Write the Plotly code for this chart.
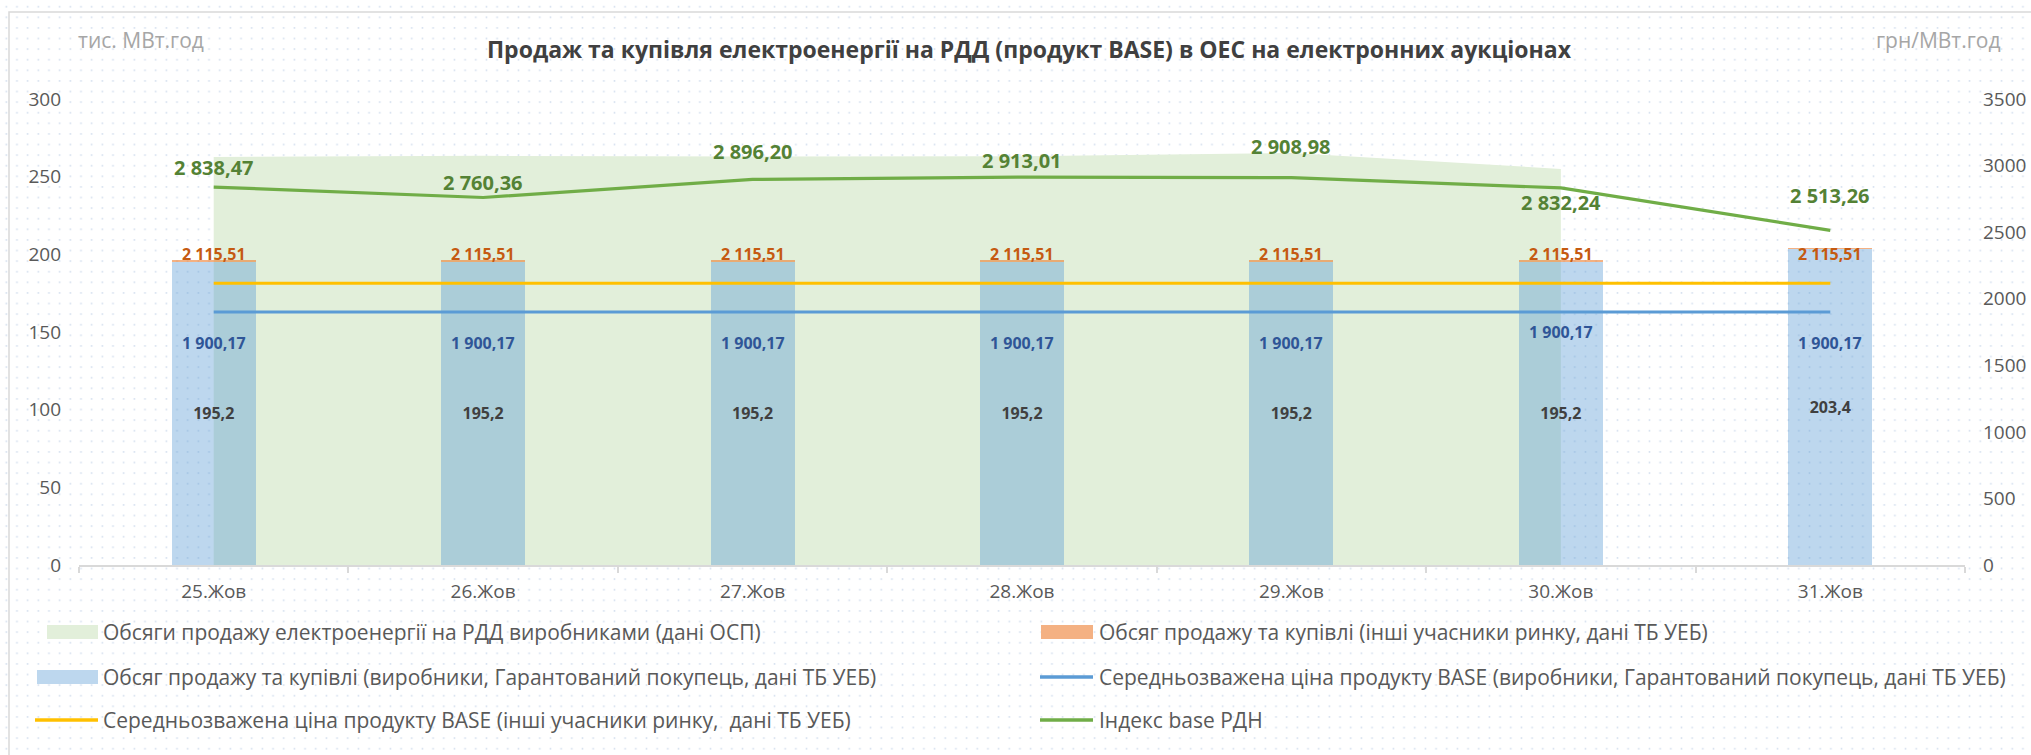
import base64
import plotly.graph_objects as go

# ---------------- data ----------------
categories = ["25.Жов", "26.Жов", "27.Жов", "28.Жов", "29.Жов", "30.Жов", "31.Жов"]
osp_categories = ["25.Жов", "26.Жов", "27.Жов", "28.Жов", "29.Жов", "30.Жов"]
osp_volume = [262.7, 263.4, 263.0, 263.2, 265.2, 255.0]
producers_volume = [195.2, 195.2, 195.2, 195.2, 195.2, 195.2, 203.4]
others_volume = [1.1, 1.1, 1.1, 1.1, 1.1, 1.1, 1.0]
price_producers = [1900.17, 1900.17, 1900.17, 1900.17, 1900.17, 1900.17, 1900.17]
price_others = [2115.51, 2115.51, 2115.51, 2115.51, 2115.51, 2115.51, 2115.51]
index_base = [2838.47, 2760.36, 2896.20, 2913.01, 2908.98, 2832.24, 2513.26]

left_ticks = [0, 50, 100, 150, 200, 250, 300]
right_ticks = [0, 500, 1000, 1500, 2000, 2500, 3000, 3500]

title = "Продаж та купівля електроенергії на РДД (продукт BASE) в ОЕС на електронних аукціонах"
names = {
    "osp": "Обсяги продажу електроенергії на РДД виробниками (дані ОСП)",
    "others": "Обсяг продажу та купівлі (інші учасники ринку, дані ТБ УЕБ)",
    "prod": "Обсяг продажу та купівлі (виробники, Гарантований покупець, дані ТБ УЕБ)",
    "p_prod": "Середньозважена ціна продукту BASE (виробники, Гарантований покупець, дані ТБ УЕБ)",
    "p_oth": "Середньозважена ціна продукту BASE (інші учасники ринку,  дані ТБ УЕБ)",
    "idx": "Індекс base РДН",
}

# ---------------- label placement (pixels) ----------------
green_shift = [20, 15, 28, 17, 31, -15, 35]
orange_shift = [29, 29, 29, 29, 29, 29, 29]
blue_shift = [-31, -31, -31, -31, -31, -20, -31]

# ---------------- geometry ----------------
W, H = 2031, 755
ML, MR, MT, MB = 79, 66, 99, 190
PW, PH = W - ML - MR, H - MT - MB
FONT = "Open Sans"
GRAY = "#595959"


def px(x):
    return (x - ML) / PW


def py(y):
    return (H - MB - y) / PH


fig = go.Figure()

# green area (primary subplot, below bars)
fig.add_trace(go.Scatter(
    x=osp_categories, y=osp_volume, mode="lines", fill="tozeroy",
    fillcolor="#E2EFDA", line=dict(width=0, color="#E2EFDA"),
    name=names["osp"], showlegend=False, yaxis="y", hoverinfo="skip"))

# bars (overlay subplot y2)
fig.add_trace(go.Bar(
    x=categories, y=producers_volume, name=names["prod"], yaxis="y2",
    marker=dict(color="rgba(91,155,213,0.4)", line=dict(width=0)),
    width=0.312, texttemplate="%{y:.1f}", textposition="inside",
    insidetextanchor="middle", textangle=0, constraintext="none",
    insidetextfont=dict(family=FONT, size=16, color="#404040", weight="bold"),
    showlegend=False))
fig.add_trace(go.Bar(
    x=categories, y=others_volume, name=names["others"], yaxis="y2",
    marker=dict(color="rgba(237,125,49,0.6)", line=dict(width=0)),
    width=0.312, showlegend=False))

# lines (overlay subplot y3, right axis)
fig.add_trace(go.Scatter(
    x=categories, y=price_others, mode="lines", yaxis="y3",
    line=dict(color="#FFC000", width=3), name=names["p_oth"], showlegend=False))
fig.add_trace(go.Scatter(
    x=categories, y=price_producers, mode="lines", yaxis="y3",
    line=dict(color="#5B9BD5", width=3), name=names["p_prod"], showlegend=False))
fig.add_trace(go.Scatter(
    x=categories, y=index_base, mode="lines", yaxis="y3",
    line=dict(color="#70AD47", width=3.2), name=names["idx"], showlegend=False))

annotations = []


def fmt(v):
    s = f"{v:,.2f}"
    return s.replace(",", " ").replace(".", ",")


for c, v, s in zip(categories, index_base, green_shift):
    annotations.append(dict(x=c, y=v, xref="x", yref="y3", yshift=s, text=fmt(v),
                            showarrow=False, yanchor="middle",
                            font=dict(family=FONT, size=20, color="#548235", weight="bold")))
for c, v, s in zip(categories, price_others, orange_shift):
    annotations.append(dict(x=c, y=v, xref="x", yref="y3", yshift=s, text=fmt(v),
                            showarrow=False, yanchor="middle",
                            font=dict(family=FONT, size=16, color="#C55A11", weight="bold")))
for c, v, s in zip(categories, price_producers, blue_shift):
    annotations.append(dict(x=c, y=v, xref="x", yref="y3", yshift=s, text=fmt(v),
                            showarrow=False, yanchor="middle",
                            font=dict(family=FONT, size=16, color="#2F5597", weight="bold")))

# axis unit titles
annotations.append(dict(x=px(76), y=py(40), xref="paper", yref="paper", text="тис. МВт.год",
                        showarrow=False, xanchor="left", yanchor="middle",
                        font=dict(family=FONT, size=21, color="#A6A6A6")))
annotations.append(dict(x=px(2003), y=py(40), xref="paper", yref="paper", text="грн/МВт.год",
                        showarrow=False, xanchor="right", yanchor="middle",
                        font=dict(family=FONT, size=21, color="#A6A6A6")))

# manual legend
shapes = []
legend_items = [
    ("rect", "#E2EFDA", 47, 98, 632, names["osp"], 101),
    ("rect", "#F4B183", 1041, 1093, 632, names["others"], 1097),
    ("rect", "#BDD7EE", 37, 98, 677, names["prod"], 101),
    ("line", "#5B9BD5", 1040, 1093, 677, names["p_prod"], 1097),
    ("line", "#FFC000", 35, 98, 720, names["p_oth"], 101),
    ("line", "#70AD47", 1040, 1093, 720, names["idx"], 1097),
]
for kind, col, x0, x1, yc, label, tx in legend_items:
    if kind == "rect":
        shapes.append(dict(type="rect", xref="paper", yref="paper", x0=px(x0), x1=px(x1),
                           y0=py(yc - 7), y1=py(yc + 7), fillcolor=col, line=dict(width=0)))
    else:
        shapes.append(dict(type="line", xref="paper", yref="paper", x0=px(x0), x1=px(x1),
                           y0=py(yc), y1=py(yc), line=dict(color=col, width=3.5)))
    annotations.append(dict(x=px(tx), y=py(yc), xref="paper", yref="paper", text=label,
                            showarrow=False, xanchor="left", yanchor="middle",
                            font=dict(family=FONT, size=21, color=GRAY)))

# outer chart border
shapes.append(dict(type="rect", xref="paper", yref="paper", x0=px(9), x1=px(2045),
                   y0=py(775), y1=py(12), line=dict(color="#D9D9D9", width=1.5),
                   fillcolor="rgba(0,0,0,0)", layer="below"))

# dotted background
svg = (f"<svg xmlns='http://www.w3.org/2000/svg' width='{W}' height='{H}'>"
       "<defs><pattern id='p' x='0' y='0' width='10.67' height='10.6' patternUnits='userSpaceOnUse'>"
       "<rect x='5.5' y='5.9' width='1.6' height='1.6' fill='#D3DEEE'/></pattern></defs>"
       f"<rect width='{W}' height='{H}' fill='url(#p)'/></svg>")
bg_src = "data:image/svg+xml;base64," + base64.b64encode(svg.encode()).decode()

tickfont = dict(family=FONT, size=19, color=GRAY)
fig.update_layout(
    width=W, height=H,
    margin=dict(l=ML, r=MR, t=MT, b=MB, autoexpand=False),
    paper_bgcolor="white", plot_bgcolor="rgba(0,0,0,0)",
    separators=", ",
    barmode="stack",
    showlegend=False,
    hovermode=False,
    title=dict(text=title, x=1029 / W, xref="container", xanchor="center",
               y=1 - 50 / H, yref="container", yanchor="middle",
               font=dict(family=FONT, size=23, color="#404040", weight="bold")),
    xaxis=dict(type="category", categoryorder="array", categoryarray=categories,
               range=[-0.5, 6.5], showline=True, linecolor="#D9D9D9", linewidth=2,
               ticks="outside", tickson="boundaries", ticklen=6, tickwidth=2,
               tickcolor="#D9D9D9", tickfont=tickfont, ticklabelstandoff=8,
               showgrid=False, zeroline=False),
    yaxis=dict(range=[0, 300], tickvals=left_ticks, showgrid=False, zeroline=False,
               showline=False, ticks="", tickfont=tickfont, ticklabelstandoff=17),
    yaxis2=dict(range=[0, 300], overlaying="y", visible=False),
    yaxis3=dict(range=[0, 3500], overlaying="y", side="right", tickvals=right_ticks,
                showgrid=False, zeroline=False, showline=False, ticks="",
                tickfont=tickfont, ticklabelstandoff=17),
    annotations=annotations,
    shapes=shapes,
    images=[dict(source=bg_src, xref="paper", yref="paper", x=px(0), y=py(0),
                 sizex=W / PW, sizey=H / PH, xanchor="left", yanchor="top",
                 sizing="stretch", layer="below")],
)

fig.write_html("out.html", config={"displayModeBar": False, "staticPlot": True},
               post_script="document.body.style.margin='0';document.body.style.overflow='hidden';")
